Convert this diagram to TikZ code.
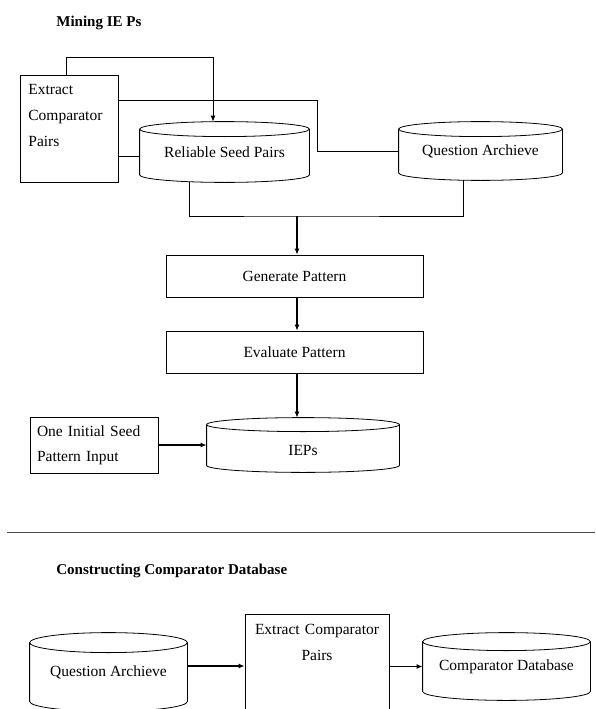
\documentclass[tikz,border=0pt]{standalone}
\usepackage{fontspec}
\setmainfont{Liberation Serif}
\usetikzlibrary{calc,arrows.meta,positioning}

\newcommand{\dbcyl}[2]{%
  \draw let \p1=(#1.north west), \p2=(#1.south east), \n1={(\x2-\x1)/2} in
    ($(#1.north)+(0,-#2)$) ellipse [x radius=\n1, y radius=#2]
    (\x1,\y1-#2) -- (\x1,\y2+#2) arc [start angle=180, end angle=360, x radius=\n1, y radius=#2] -- (\x2,\y1-#2);
}

\begin{document}
\begin{tikzpicture}[x=1pt,y=1pt,
    line width=0.8pt,
    font=\fontsize{15.5}{26}\selectfont,
    box/.style={draw,rectangle,inner sep=0pt},
    db/.style={rectangle,inner sep=0pt},
    title/.style={font=\fontsize{15}{18}\selectfont\bfseries,anchor=west,inner sep=0pt},
    arr/.style={-{Latex[length=6pt,width=5pt]},line width=1.1pt},
    thickarr/.style={-{Latex[length=6pt,width=5pt]},line width=1.6pt}]
\useasboundingbox (0,0) rectangle (595,-709);

\node[title] (t1) at (56,-23) {Mining IE Ps};
\node[box,anchor=north west,text width=82pt,align=left,inner xsep=8pt,minimum height=107pt] (ecp) at (20,-75) {Extract\\Comparator\\Pairs\\\mbox{}};
\node[db,minimum width=169pt,minimum height=60pt] (rsp) at (224.5,-152) {Reliable Seed Pairs};
\node[db,minimum width=163pt,minimum height=58pt] (qa) at (480.5,-151) {Question Archieve};
\node[box,minimum width=257pt,minimum height=42pt] (gp) at (294.5,-276) {Generate Pattern};
\node[box,minimum width=257pt,minimum height=42pt] (ep) at (294.5,-352) {Evaluate Pattern};
\node[db,minimum width=192pt,minimum height=54pt,text height=22pt] (ieps) at (303,-445) {IEPs};
\node[box,text width=114pt,align=left,inner xsep=7pt,minimum height=56pt,font=\fontsize{15.5}{25}\selectfont] (oisp) at (94,-445) {One Initial Seed\\Pattern Input};
\dbcyl{rsp}{7.5pt}
\dbcyl{qa}{7.5pt}
\dbcyl{ieps}{7pt}
\coordinate (mrg) at (297,-216);

\draw[arr,line width=0.8pt] ([xshift=-3pt]ecp.north) -- ++(0,18) -| ([xshift=-11.5pt]rsp.north);
\draw ([yshift=28.5pt]ecp.east) -| ([xshift=-81pt]qa.west) -- (qa.west);
\draw ([yshift=-4pt]rsp.west) -- ([yshift=-4pt]rsp.west -| ecp.east);
\draw ([xshift=-35.5pt]rsp.south) |- (mrg) -| ([xshift=-17.5pt]qa.south);
\draw[arr] (mrg) -- (mrg |- gp.north);
\draw[arr] ([xshift=2.5pt]gp.south) -- ([xshift=2.5pt]ep.north);
\draw[arr] ([xshift=2.5pt]ep.south) -- ([xshift=2.5pt]ep.south |- ieps.north);
\draw[thickarr] (oisp.east) -- (ieps.west);

\draw[black!70,line width=1pt] (7,-532) -- (595,-532);

\node[title] (t2) at (56,-571) {Constructing Comparator Database};
\node[db,minimum width=157pt,minimum height=78pt] (qa2) at (108.5,-672) {Question Archieve};
\node[box,anchor=north,text width=128pt,align=center,inner xsep=8pt,inner ysep=10pt] (ecp2) at (317,-614) {Extract Comparator\\Pairs\\\mbox{}\\\mbox{}};
\node[db,minimum width=167pt,minimum height=67pt] (cd) at (506.5,-666.5) {Comparator Database};
\dbcyl{qa2}{10pt}
\dbcyl{cd}{9pt}

\draw[thickarr] ([yshift=6pt]qa2.east) -- ([yshift=6pt]qa2.east -| ecp2.west);
\draw[thickarr] (ecp2.east |- cd.west) -- (cd.west);
\end{tikzpicture}
\end{document}
